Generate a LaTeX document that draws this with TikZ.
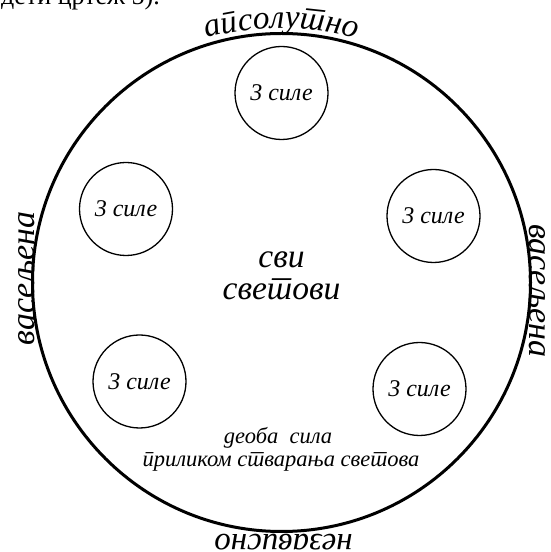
\documentclass[tikz,border=0pt]{standalone}
\usepackage{fontspec}
\setmainfont{Liberation Serif}
\newfontfamily\srbit{Liberation Serif Italic}[Script=Cyrillic,Language=Serbian]
\usetikzlibrary{decorations.text}
\begin{document}
\begin{tikzpicture}[x=1pt,y=1pt,
  bigc/.style={draw=black,line width=3pt},
  smallc/.style={circle,draw=black,line width=1.3pt,minimum size=93pt,inner sep=0pt,
     font=\srbit\fontsize{24}{24}\selectfont},
  outerlbl/.style={inner sep=0pt,anchor=base,font=\srbit\fontsize{34}{34}\selectfont},
  centerlbl/.style={inner sep=0pt,align=center,font=\srbit\fontsize{33.5}{33.5}\selectfont},
  botlbl/.style={inner sep=0pt,align=center,font=\srbit\fontsize{22.5}{22.5}\selectfont}]
\useasboundingbox (0,0) rectangle (551,552);
\fill[white] (0,0) rectangle (551,552);
% page fragment at top
\node[inner sep=0pt,anchor=base west,font=\fontsize{26}{26}\selectfont] (frag) at (1,547) {дети цртеж 5).};
% big circle
\node[circle,bigc,minimum size=498pt,inner sep=0pt] (big) at (281.5,269.5) {};
% small circles
\node[smallc] (c1) at (281.5,459) {3 силе};
\node[smallc] (c2) at (126,343) {3 силе};
\node[smallc] (c3) at (433.5,336) {3 силе};
\node[smallc] (c4) at (139.5,170.5) {3 силе};
\node[smallc] (c5) at (419.5,163) {3 силе};
% centre text
\node[centerlbl] (svi) at (281.5,276) {сви\\[-2pt]светови};
\node[botlbl] (deoba) at (278,114) {деоба\ \ сила};
\node[botlbl] (prilikom) at (281,90) {приликом стварања светова};
% outer labels
\path[decorate,decoration={text along path,text align=center,
   text={|\srbit\fontsize{33}{33}\selectfont|апсолутно}}]
   (141.5,486.5) arc[start angle=120,end angle=60,radius=280];
\node[outerlbl,rotate=90] (lv) at (34,273.5) {васељена};
\node[outerlbl,rotate=-90] (rv) at (529.5,261) {васељена};
\node[outerlbl,font=\srbit\fontsize{33}{33}\selectfont,rotate=180] (bn) at (283.5,17) {независно};
\end{tikzpicture}
\end{document}
